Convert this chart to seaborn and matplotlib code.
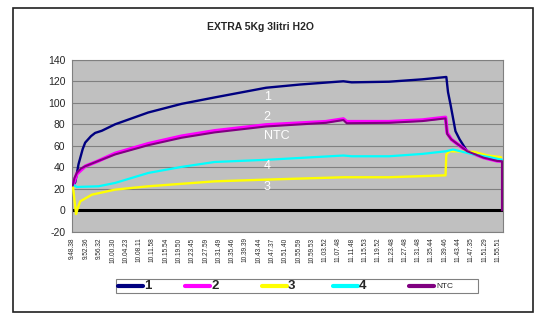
import matplotlib
matplotlib.use("Agg")
import matplotlib.pyplot as plt
import seaborn as sns
import pandas as pd
from matplotlib.patches import Rectangle
from matplotlib.lines import Line2D

sns.set_style("white")
plt.rcParams['font.family'] = ['Liberation Sans', 'DejaVu Sans']

title = "EXTRA 5Kg 3litri H2O"
tick_labels = ["9.48.38", "9.52.36", "9.56.32", "10.00.30", "10.04.23", "10.08.11", "10.11.58",
               "10.15.54", "10.19.50", "10.23.45", "10.27.59", "10.31.49", "10.35.46", "10.39.39",
               "10.43.44", "10.47.37", "10.51.40", "10.55.59", "10.59.53", "11.03.52", "11.07.48",
               "11.11.48", "11.15.53", "11.19.52", "11.23.48", "11.27.48", "11.31.48", "11.35.44",
               "11.39.46", "11.43.44", "11.47.35", "11.51.29", "11.55.51"]
samples_per_tick = 16

# series 1 (sample index, value)
s1_x = [0, 3, 7, 12, 15, 22, 27, 35, 51, 91, 131, 171, 233, 274, 326, 336, 381, 421, 450,
        452, 455, 461, 466, 475, 490, 505, 516]
s1_y = [23, 26, 43, 57, 63, 69, 72, 74, 80, 91, 99, 105, 114, 117, 120, 119, 119.6, 121.8, 124,
        110, 98.5, 73.6, 66, 55, 51, 48.5, 46]
# series 2
s2_x = [0, 5, 15, 31, 51, 91, 131, 171, 233, 305, 326, 330, 381, 421, 449, 451, 456, 462, 475,
        495, 511, 517]
s2_y = [23, 34, 41, 46, 53, 62, 69, 74, 79.5, 82.5, 85, 82.5, 82.5, 84, 86.5, 72, 66, 62.5, 55,
        49, 46, 45.7]
# series 3
s3_x = [0, 4, 6, 9, 23, 51, 91, 171, 233, 326, 381, 449, 450, 454, 483, 500, 516]
s3_y = [24, -3.4, 2, 8.4, 14.6, 19.3, 22.4, 27, 28.6, 30.8, 30.8, 32.6, 52, 55, 54.4, 51, 49.4]
# series 4
s4_x = [0, 5, 31, 51, 91, 131, 171, 233, 326, 336, 381, 421, 450, 458, 483, 502, 517]
s4_y = [24, 21.8, 22.4, 25.5, 34.8, 40.4, 45, 47, 51, 50.3, 50.3, 52.5, 55, 56.6, 52, 49.5, 47]
# NTC
ntc_x = [0, 2, 5, 10, 15, 31, 51, 91, 131, 171, 233, 305, 326, 330, 381, 421, 449, 451, 456,
         462, 475, 495, 511, 517, 517]
ntc_y = [23, 30, 35, 39, 41, 46, 52, 60.6, 67.5, 72.5, 78, 81.4, 84, 81, 81.4, 83, 85.5, 71, 66,
         62.5, 55, 49, 46, 45.7, 0]

series = [
    ("1", s1_x, s1_y, "#000080", 1.7),
    ("2", s2_x, s2_y, "#FF00FF", 2.5),
    ("3", s3_x, s3_y, "#FFFF00", 1.7),
    ("4", s4_x, s4_y, "#00FFFF", 1.6),
    ("NTC", ntc_x, ntc_y, "#800080", 1.5),
]

W, H = 547, 323
fig = plt.figure(figsize=(W / 100, H / 100), dpi=100)
fig.patch.set_facecolor("white")
ax = fig.add_axes([0.1322, 0.282, 0.787, 0.533])
ax.set_facecolor("#C0C0C0")

for v in range(-20, 141, 20):
    ax.axhline(v, color="#808080", lw=0.8, zorder=1)
ax.axhline(0, color="black", lw=2.2, zorder=2)

for name, xs, ys, col, lw in series:
    df = pd.DataFrame({"x": xs, "y": ys})
    sns.lineplot(data=df, x="x", y="y", ax=ax, color=col, lw=lw, estimator=None,
                 sort=False, zorder=3)

ax.set_xlim(-0.5, 518)
ax.set_ylim(-20, 140)
ax.set_yticks(range(-20, 141, 20))
ax.set_yticklabels([str(v) for v in range(-20, 141, 20)], fontsize=7.5)
ax.set_xticks([i * samples_per_tick for i in range(len(tick_labels))])
ax.set_xticklabels(tick_labels, rotation=90, fontsize=4.7)
ax.tick_params(axis="y", length=3, width=0.6, color="#606060", pad=2)
ax.tick_params(axis="x", length=2, width=0.6, color="#606060", pad=2)
ax.set_xlabel("")
ax.set_ylabel("")
for sp in ax.spines.values():
    sp.set_color("#808080")
    sp.set_linewidth(0.8)

# in-plot white labels
lab_x = 230
for txt, yv in [("1", 105.3), ("2", 87), ("NTC", 69), ("4", 41), ("3", 21.4)]:
    ax.text(lab_x, yv, txt, color="white", fontsize=9, ha="left", va="center", zorder=4)

fig.text(0.477, 0.915, title, ha="center", va="center", fontsize=7.5, fontweight="bold")

# legend box (pixel layout converted to figure fraction)
def fx(px):
    return px / W

def fy(py):
    return 1 - py / H

fig.add_artist(Rectangle((fx(116), fy(293)), fx(478) - fx(116), fy(279) - fy(293),
                         transform=fig.transFigure, fill=False, edgecolor="#808080", lw=0.8))
leg_pos = [118, 185, 262, 333, 409]
ly = fy(286)
for (name, _, _, col, _), px in zip(series, leg_pos):
    fig.add_artist(Line2D([fx(px), fx(px + 25)], [ly, ly], transform=fig.transFigure,
                          color=col, lw=3))
    if name == "NTC":
        fig.text(fx(px + 27), ly, name, fontsize=6, ha="left", va="center")
    else:
        fig.text(fx(px + 26), ly, name, fontsize=9.5, fontweight="bold", ha="left", va="center")

fig.add_artist(Rectangle((0.0238, 0.034), 0.951, 0.941, transform=fig.transFigure,
                         fill=False, edgecolor="#202020", lw=1.2))

fig.savefig("out.png", dpi=100)
